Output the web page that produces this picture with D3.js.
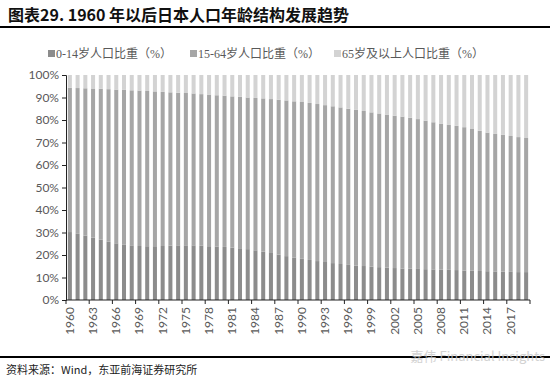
<!DOCTYPE html>
<html>
<head>
<meta charset="utf-8">
<script src="https://cdn.jsdelivr.net/npm/d3@7"></script>
<style>
  body { margin: 0; background: #fff; }
  svg { display: block; }
</style>
</head>
<body>
<div id="chart"></div>
<script>
// 1960-2019, share of population by age group (%)
const years = d3.range(1960, 2020);

const young = [30.2, 29.4, 28.6, 27.7, 26.8, 25.9, 25.2, 24.7, 24.3, 24.0,
    23.9, 23.9, 24.0, 24.2, 24.3, 24.3, 24.3, 24.1, 23.9, 23.8,
    23.6, 23.3, 23.0, 22.6, 22.1, 21.5, 20.9, 20.2, 19.5, 18.9,
    18.3, 17.8, 17.3, 16.9, 16.4, 16.0, 15.6, 15.3, 15.1, 14.8,
    14.6, 14.4, 14.2, 14.0, 13.9, 13.8, 13.7, 13.6, 13.5, 13.4,
    13.3, 13.1, 13.0, 12.9, 12.8, 12.7, 12.6, 12.5, 12.4, 12.4];

const working = [64.1, 64.8, 65.5, 66.3, 67.1, 67.8, 68.3, 68.7, 68.9, 69.1,
    69.0, 68.8, 68.5, 68.1, 67.8, 67.7, 67.5, 67.4, 67.4, 67.2,
    67.2, 67.2, 67.3, 67.4, 67.7, 68.1, 68.4, 68.8, 69.2, 69.4,
    69.7, 69.8, 69.8, 69.7, 69.7, 69.6, 69.4, 69.2, 68.9, 68.6,
    68.3, 68.0, 67.7, 67.5, 67.1, 66.6, 66.0, 65.4, 64.9, 64.4,
    64.1, 63.7, 63.0, 62.3, 61.6, 61.1, 60.8, 60.4, 60.0, 59.6];

const old = [5.7, 5.8, 5.9, 6.0, 6.1, 6.3, 6.5, 6.6, 6.8, 6.9,
    7.1, 7.3, 7.5, 7.7, 7.9, 8.0, 8.2, 8.5, 8.7, 9.0,
    9.2, 9.5, 9.7, 10.0, 10.2, 10.4, 10.7, 11.0, 11.3, 11.7,
    12.0, 12.4, 12.9, 13.4, 13.9, 14.4, 15.0, 15.5, 16.0, 16.6,
    17.1, 17.6, 18.1, 18.5, 19.0, 19.6, 20.3, 21.0, 21.6, 22.2,
    22.6, 23.2, 24.0, 24.8, 25.6, 26.2, 26.6, 27.1, 27.6, 28.0];

const series_names = ["0-14岁人口比重（%）", "15-64岁人口比重（%）", "65岁及以上人口比重（%）"];
const series_colors = ["#8c8c8c", "#a6a6a6", "#d3d3d3"];
const y_ticks = d3.range(0, 101, 10);

const width = 550;
const height = 382;
const margin = { top: 75, right: 20, bottom: 82, left: 66 };

const table = years.map((yr, i) => ({ year: yr, young: young[i], working: working[i], old: old[i] }));
const stacked = d3.stack().keys(["young", "working", "old"])(table);

const svg = d3.select("#chart").append("svg")
    .attr("width", width)
    .attr("height", height);

// title and rules
svg.append("text")
    .attr("x", 8)
    .attr("y", 21)
    .attr("font-family", "'Noto Sans CJK SC', sans-serif")
    .attr("font-weight", "bold")
    .attr("font-size", 16)
    .attr("fill", "#111")
    .text("图表29. 1960 年以后日本人口年龄结构发展趋势");

svg.append("line")
    .attr("x1", 0).attr("x2", width)
    .attr("y1", 27).attr("y2", 27)
    .attr("stroke", "#000")
    .attr("stroke-width", 2);

svg.append("line")
    .attr("x1", 0).attr("x2", width)
    .attr("y1", 357).attr("y2", 357)
    .attr("stroke", "#000")
    .attr("stroke-width", 2);

svg.append("text")
    .attr("x", 6)
    .attr("y", 374)
    .attr("font-family", "'Noto Sans CJK SC', serif")
    .attr("font-size", 11)
    .attr("fill", "#222")
    .text("资料来源：Wind，东亚前海证券研究所");

// faint watermark
svg.append("text")
    .attr("x", 545)
    .attr("y", 361)
    .attr("text-anchor", "end")
    .attr("font-family", "'Noto Sans CJK SC', sans-serif")
    .attr("font-size", 13)
    .attr("fill", "#c8c8c8")
    .attr("opacity", 0.8)
    .text("嘉伟 Financial Insights");

const x = d3.scaleBand()
    .domain(years)
    .range([margin.left, width - margin.right])
    .paddingInner(0.48)
    .paddingOuter(0.24);

const y = d3.scaleLinear()
    .domain([0, 100])
    .range([height - margin.bottom, margin.top]);

// bars
svg.append("g")
    .selectAll("g")
    .data(stacked)
    .join("g")
    .attr("fill", (d, i) => series_colors[i])
    .selectAll("rect")
    .data(d => d)
    .join("rect")
    .attr("x", d => x(d.data.year))
    .attr("y", d => y(d[1]))
    .attr("width", x.bandwidth())
    .attr("height", d => y(d[0]) - y(d[1]));

// y axis
const y_axis = svg.append("g")
    .attr("transform", `translate(${margin.left},0)`)
    .call(d3.axisLeft(y).tickValues(y_ticks).tickSize(4).tickFormat(d => d + "%"));
y_axis.select(".domain").attr("stroke", "#222");
y_axis.selectAll(".tick line").attr("stroke", "#222");
y_axis.selectAll(".tick text")
    .attr("font-family", "Lato, 'Open Sans', sans-serif")
    .attr("font-size", 12)
    .attr("fill", "#595959")
    .attr("x", -7);

// x axis: ticks on category boundaries every 3 years, labels centred on bars
const x_step = x.step();
const x_axis = svg.append("g")
    .attr("transform", `translate(0,${height - margin.bottom})`);
x_axis.append("line")
    .attr("x1", margin.left).attr("x2", width - margin.right)
    .attr("stroke", "#222");
const boundaries = d3.range(0, years.length + 1, 3);
x_axis.selectAll("line.tick")
    .data(boundaries)
    .join("line")
    .attr("class", "tick")
    .attr("x1", i => margin.left + i * x_step)
    .attr("x2", i => margin.left + i * x_step)
    .attr("y1", 0).attr("y2", 4)
    .attr("stroke", "#222");
x_axis.selectAll("text")
    .data(years.filter((yr, i) => i % 3 === 0))
    .join("text")
    .attr("transform", yr => `translate(${x(yr) + x.bandwidth() / 2 + 4},7) rotate(-90)`)
    .attr("text-anchor", "end")
    .attr("font-family", "Lato, 'Open Sans', sans-serif")
    .attr("font-size", 12)
    .attr("fill", "#595959")
    .text(yr => yr);

// legend
const legend_x = [48, 190, 334];
const legend = svg.append("g")
    .selectAll("g")
    .data(series_names)
    .join("g")
    .attr("transform", (d, i) => `translate(${legend_x[i]},54)`);
legend.append("rect")
    .attr("x", 0).attr("y", -4)
    .attr("width", 7).attr("height", 7)
    .attr("fill", (d, i) => series_colors[i]);
legend.append("text")
    .attr("x", 8)
    .attr("y", 4)
    .attr("font-family", "'Liberation Serif', 'Noto Sans CJK SC', serif")
    .attr("font-size", 12)
    .attr("fill", "#595959")
    .text(d => d);
</script>
</body>
</html>
